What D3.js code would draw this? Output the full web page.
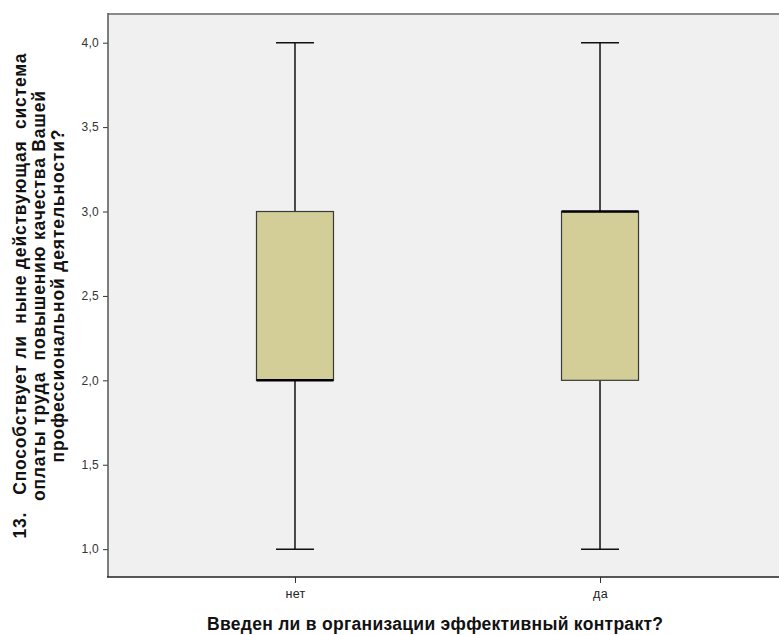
<!DOCTYPE html>
<html>
<head>
<meta charset="utf-8">
<script src="https://cdn.jsdelivr.net/npm/d3@7"></script>
<style>
  html, body { margin: 0; padding: 0; background: #fff; }
  svg { display: block; font-family: "Liberation Sans", Arial, sans-serif; }
</style>
</head>
<body>
<svg id="chart" width="779" height="635"></svg>
<script>
// Groups on the x axis and their five-number summaries
const categories = ["нет", "да"];
const minValues = [1, 1];
const q1Values = [2, 2];
const medianValues = [2, 3];
const q3Values = [3, 3];
const maxValues = [4, 4];
const yTicks = [1.0, 1.5, 2.0, 2.5, 3.0, 3.5, 4.0];

const xTitle = "Введен ли в организации эффективный контракт?";
const yTitleLines = [
  "13.   Способствует ли  ныне действующая  система",
  "оплаты труда  повышению качества Вашей",
  "профессиональной деятельности?"
];
// rendered lengths of the title lines (px)
const yTitleLengths = [485, 410, 333];

const svg = d3.select("#chart");
const plot = { left: 108, right: 787, top: 14, bottom: 577 };

const x = d3.scalePoint()
  .domain(categories)
  .range([plot.left, plot.right])
  .padding(0.613);

const y = d3.scaleLinear()
  .domain([0.835, 4.17])
  .range([plot.bottom, plot.top]);

// plot background
svg.append("rect")
  .attr("x", plot.left).attr("y", plot.top)
  .attr("width", plot.right - plot.left)
  .attr("height", plot.bottom - plot.top)
  .attr("fill", "#f0f0f0");

// top frame line
svg.append("line")
  .attr("x1", plot.left).attr("x2", plot.right)
  .attr("y1", plot.top).attr("y2", plot.top)
  .attr("stroke", "#8a8a8a").attr("stroke-width", 2);

const boxW = 77;
const capW = 38;
const data = categories.map((c, i) => ({
  c, min: minValues[i], q1: q1Values[i], med: medianValues[i], q3: q3Values[i], max: maxValues[i]
}));

const g = svg.append("g");
data.forEach(d => {
  const cx = x(d.c);
  // whiskers
  g.append("line")
    .attr("x1", cx).attr("x2", cx)
    .attr("y1", y(d.max)).attr("y2", y(d.q3))
    .attr("stroke", "#111").attr("stroke-width", 1.5);
  g.append("line")
    .attr("x1", cx).attr("x2", cx)
    .attr("y1", y(d.q1)).attr("y2", y(d.min))
    .attr("stroke", "#111").attr("stroke-width", 1.5);
  // caps
  [d.max, d.min].forEach(v => {
    g.append("line")
      .attr("x1", cx - capW / 2).attr("x2", cx + capW / 2)
      .attr("y1", y(v)).attr("y2", y(v))
      .attr("stroke", "#111").attr("stroke-width", 1.5);
  });
  // box
  g.append("rect")
    .attr("x", cx - boxW / 2).attr("y", y(d.q3))
    .attr("width", boxW).attr("height", y(d.q1) - y(d.q3))
    .attr("fill", "#d3ce97")
    .attr("stroke", "#3a3a3a").attr("stroke-width", 1.2);
  // median
  g.append("line")
    .attr("x1", cx - boxW / 2).attr("x2", cx + boxW / 2)
    .attr("y1", y(d.med)).attr("y2", y(d.med))
    .attr("stroke", "#000").attr("stroke-width", 2.5);
});

// y axis
const yAxis = svg.append("g")
  .attr("transform", `translate(${plot.left},0)`)
  .call(d3.axisLeft(y)
    .tickValues(yTicks)
    .tickSize(5)
    .tickPadding(4)
    .tickFormat(d => d3.format(".1f")(d).replace(".", ",")));
yAxis.select(".domain").remove();
yAxis.append("line")
  .attr("x1", 0).attr("x2", 0)
  .attr("y1", plot.top - 1).attr("y2", plot.bottom)
  .attr("stroke", "#555").attr("stroke-width", 1.5);
yAxis.selectAll(".tick line").attr("stroke", "#333");
yAxis.selectAll(".tick text")
  .attr("fill", "#333")
  .style("font-size", "12px")
  .style("letter-spacing", "0.3px")
  .style("font-family", "'Liberation Sans', Arial, sans-serif");

// x axis
const xAxis = svg.append("g")
  .attr("transform", `translate(0,${plot.bottom})`)
  .call(d3.axisBottom(x).tickSize(6).tickPadding(6));
xAxis.select(".domain").remove();
xAxis.append("line")
  .attr("x1", plot.left - 1).attr("x2", plot.right)
  .attr("y1", 0).attr("y2", 0)
  .attr("stroke", "#222").attr("stroke-width", 1.5);
xAxis.selectAll(".tick line").attr("stroke", "#333");
xAxis.selectAll(".tick text")
  .attr("fill", "#222")
  .style("font-size", "12.5px")
  .style("letter-spacing", "0.3px")
  .style("font-family", "'Liberation Sans', Arial, sans-serif");

// axis titles
svg.append("text")
  .attr("x", 435).attr("y", 630)
  .attr("text-anchor", "middle")
  .attr("textLength", 456)
  .attr("lengthAdjust", "spacing")
  .style("font-size", "17.5px")
  .style("font-weight", "bold")
  .attr("fill", "#111")
  .text(xTitle);

const yt = svg.append("g")
  .attr("transform", "translate(26,296) rotate(-90)");
yTitleLines.forEach((t, i) => {
  yt.append("text")
    .attr("x", 0)
    .attr("y", i * 19)
    .attr("text-anchor", "middle")
    .attr("textLength", yTitleLengths[i])
    .attr("lengthAdjust", "spacing")
    .style("font-size", "17.5px")
    .style("font-weight", "bold")
    .style("white-space", "pre")
    .attr("fill", "#111")
    .text(t);
});
</script>
</body>
</html>
